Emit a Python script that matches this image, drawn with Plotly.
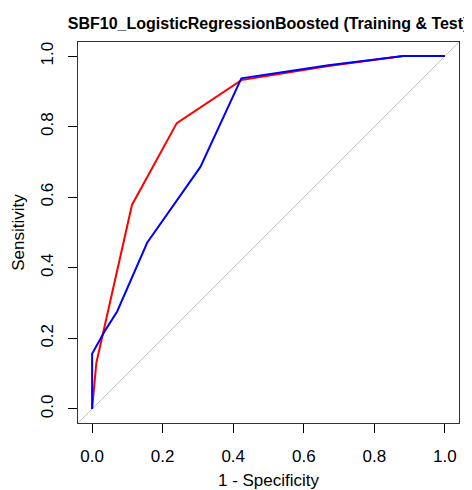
import plotly.graph_objects as go

# Data
train_fpr = [0.0, 0.003, 0.012, 0.113, 0.24, 0.423, 0.67, 0.882, 1.0]
train_tpr = [0.0, 0.035, 0.13, 0.578, 0.81, 0.932, 0.972, 1.0, 1.0]
test_fpr = [0.0, 0.0, 0.038, 0.071, 0.156, 0.307, 0.423, 0.67, 0.882, 1.0]
test_tpr = [0.0, 0.156, 0.224, 0.276, 0.471, 0.686, 0.937, 0.974, 1.0, 1.0]
ref_line = [-0.04, 1.04]
tick_vals = [0.0, 0.2, 0.4, 0.6, 0.8, 1.0]
tick_text = ["0.0", "0.2", "0.4", "0.6", "0.8", "1.0"]

FONT = "Liberation Sans, Arial, sans-serif"

# The page body has an 8px margin, so the figure is drawn 8px in from the top-left.
OFF = 8
W, H = 472 - OFF, 490 - OFF

fig = go.Figure()
fig.add_trace(go.Scatter(x=ref_line, y=ref_line, mode="lines",
                         line=dict(color="#c8c8c8", width=1), hoverinfo="skip",
                         showlegend=False))
fig.add_trace(go.Scatter(x=train_fpr, y=train_tpr, mode="lines",
                         line=dict(color="#ff0000", width=2), name="Training",
                         showlegend=False))
fig.add_trace(go.Scatter(x=test_fpr, y=test_tpr, mode="lines",
                         line=dict(color="#0000ff", width=2), name="Test",
                         showlegend=False))

axis_common = dict(
    range=[-0.04, 1.04], tickvals=tick_vals, ticktext=tick_text,
    ticks="outside", ticklen=9, tickwidth=1, tickcolor="#000",
    showline=True, linecolor="#333", linewidth=1, mirror=True,
    showgrid=False, zeroline=False, automargin=False,
    tickfont=dict(family=FONT, size=17, color="#000"),
)

fig.update_layout(
    width=W, height=H,
    margin=dict(l=78 - OFF, r=13, t=42 - OFF, b=67, autoexpand=False),
    plot_bgcolor="white", paper_bgcolor="white",
    title=dict(text="<b>SBF10_LogisticRegressionBoosted (Training & Test)</b>",
               font=dict(family=FONT, size=16, color="#000"),
               x=((77.5 + 458.7) / 2 - OFF) / W, xanchor="center",
               y=1 - (23 - OFF) / H, yanchor="middle", xref="container"),
    xaxis=dict(**axis_common, ticklabelstandoff=9,
               title=dict(text="1 - Specificity", standoff=14,
                          font=dict(family=FONT, size=17, color="#000"))),
    yaxis=dict(**axis_common, tickangle=-90, ticklabelstandoff=8,
               title=dict(text="Sensitivity", standoff=9,
                          font=dict(family=FONT, size=17, color="#000"))),
)

fig.write_html("out.html")
